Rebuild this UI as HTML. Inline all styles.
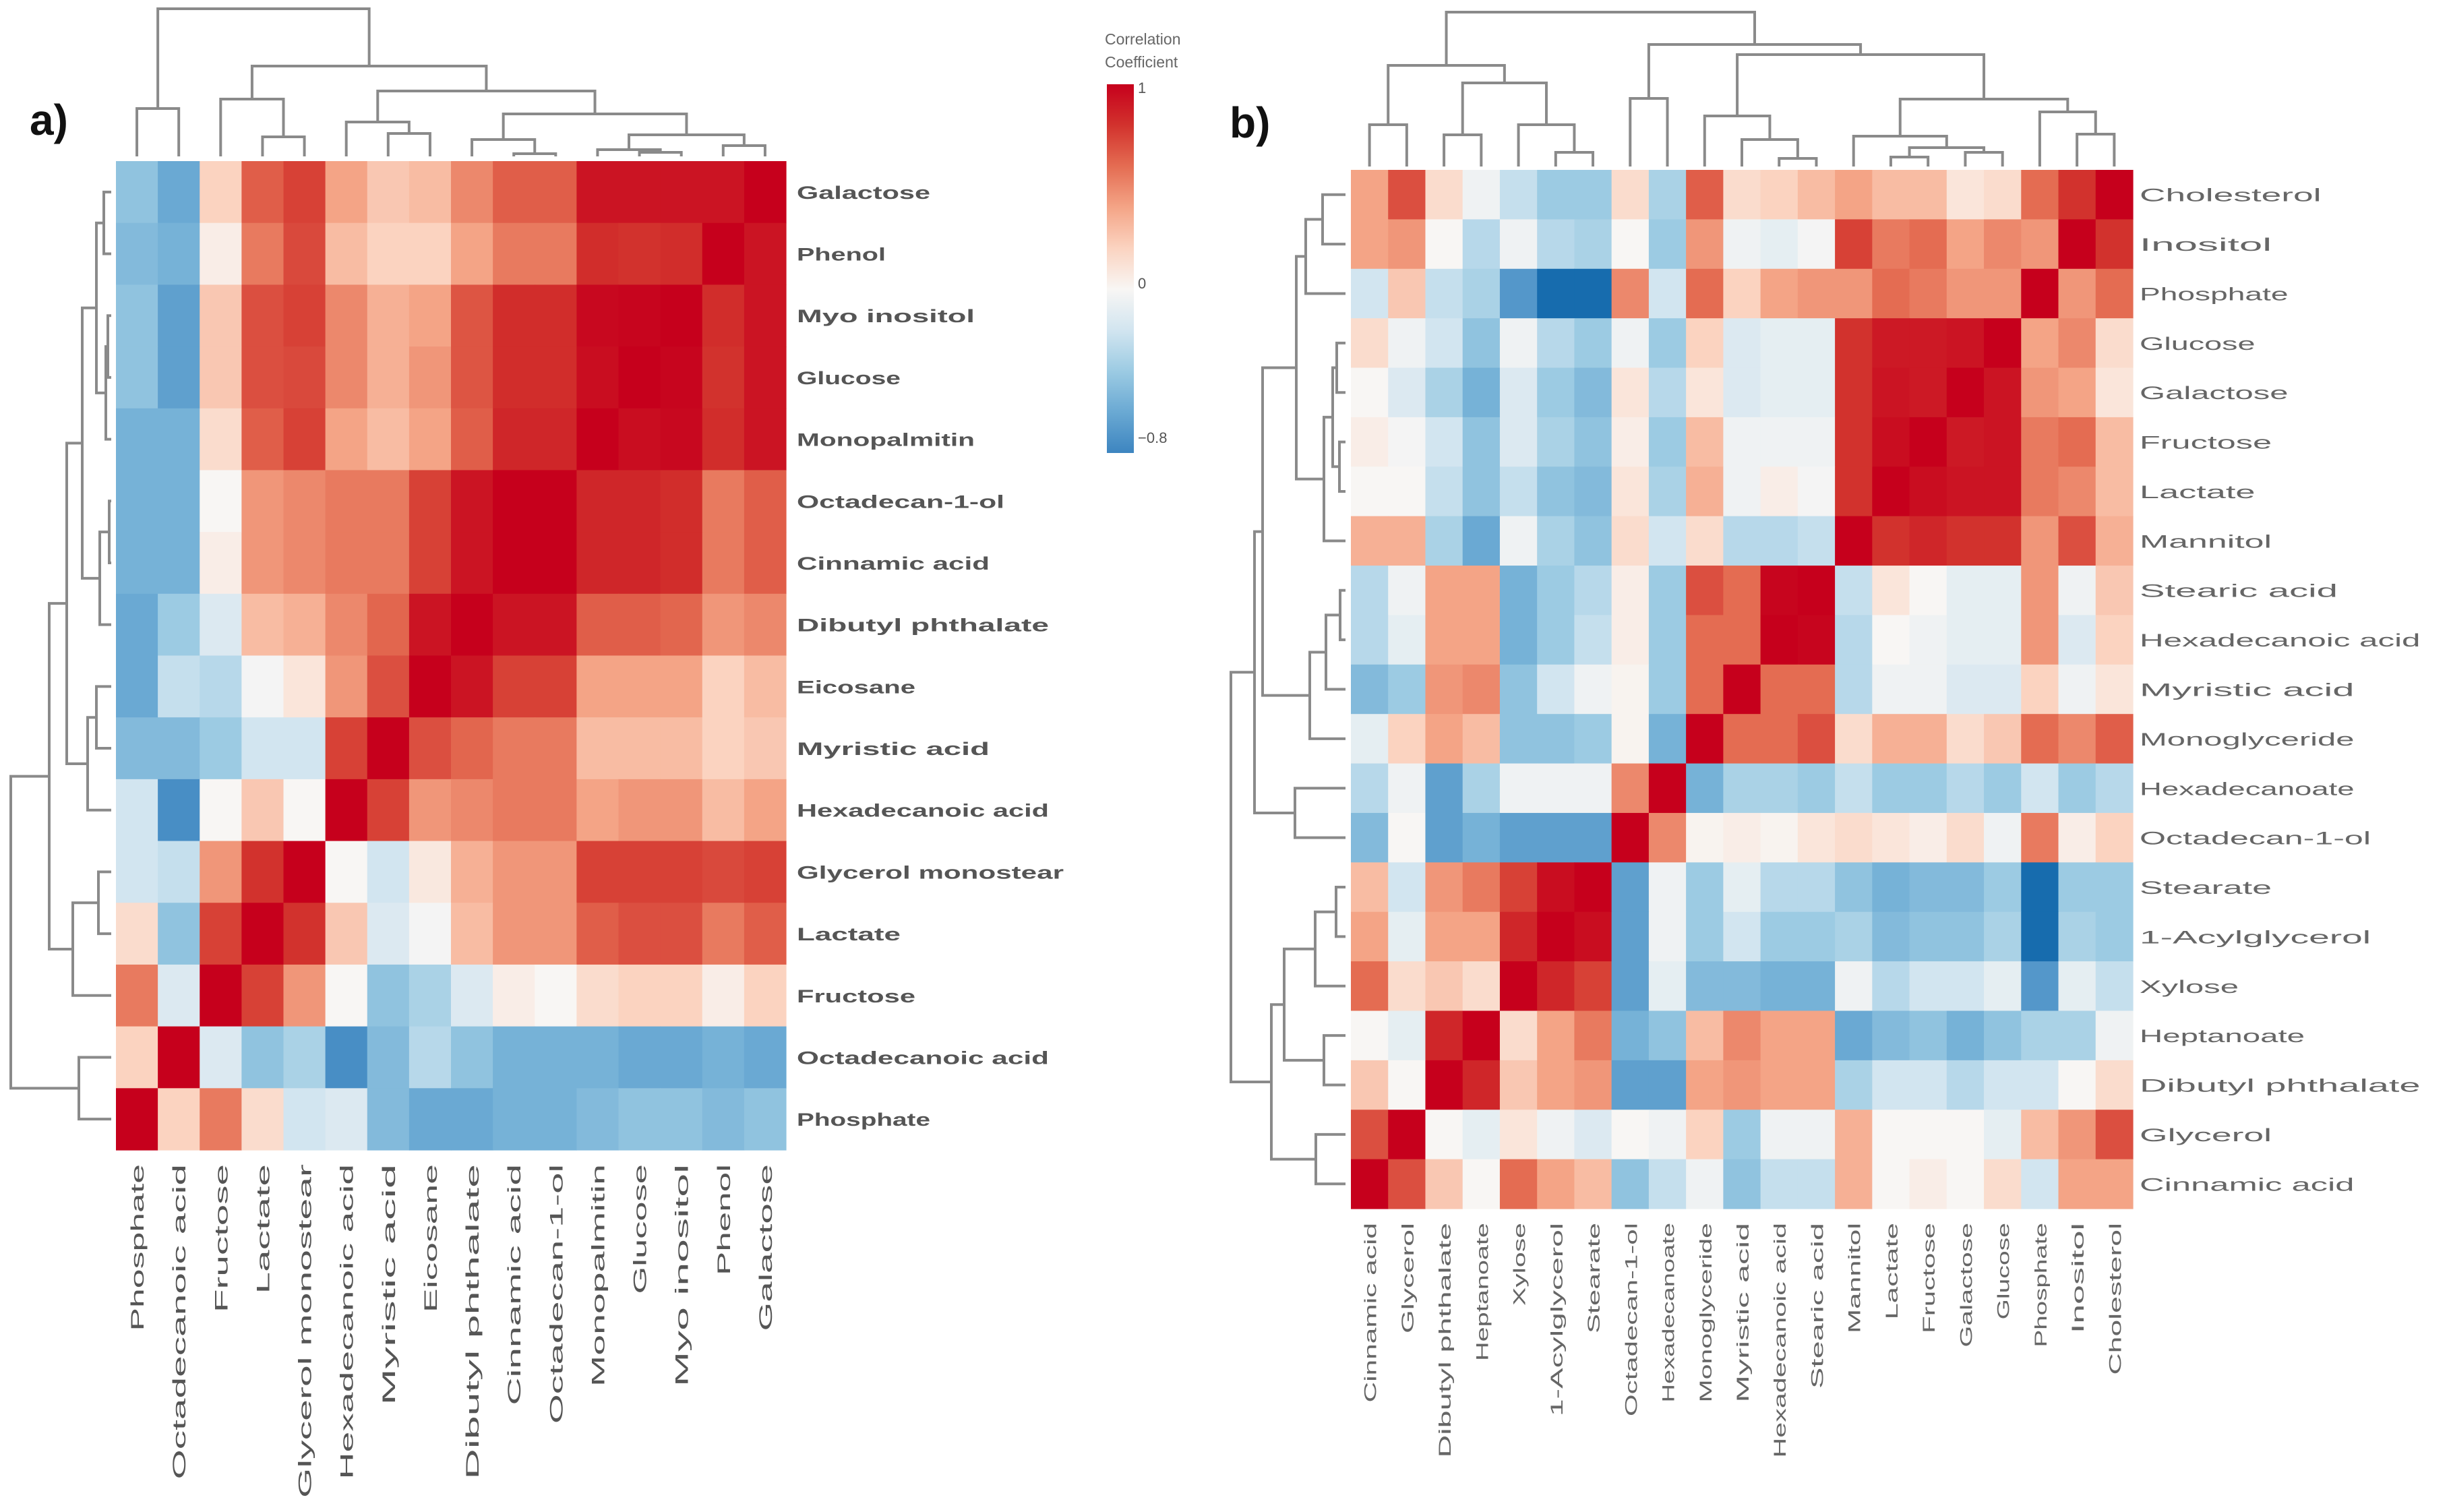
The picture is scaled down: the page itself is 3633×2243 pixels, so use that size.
<!DOCTYPE html>
<html><head><meta charset="utf-8"><title>Correlation heatmaps</title>
<style>
html,body{margin:0;padding:0;background:#fff;}
svg{display:block;}
text{font-family:"Liberation Sans",sans-serif;}
</style></head>
<body>
<svg id="fig" width="3633" height="2243" viewBox="0 0 3633 2243" xmlns="http://www.w3.org/2000/svg">
<defs>
<linearGradient id="cbgrad" x1="0" y1="0" x2="0" y2="1">
<stop offset="0" stop-color="#c6001c"/>
<stop offset="0.111" stop-color="#d2322d"/>
<stop offset="0.222" stop-color="#e46c52"/>
<stop offset="0.333" stop-color="#f4a486"/>
<stop offset="0.444" stop-color="#fbd3c0"/>
<stop offset="0.556" stop-color="#f8f6f4"/>
<stop offset="0.667" stop-color="#d2e5f0"/>
<stop offset="0.778" stop-color="#9ccbe3"/>
<stop offset="0.889" stop-color="#6aa9d3"/>
<stop offset="1" stop-color="#3d85c0"/>
</linearGradient>
</defs>
<text x="44" y="200" font-family="Liberation Serif, serif" font-weight="bold" font-size="64" fill="#111">a)</text>
<text x="1824" y="204" font-family="Liberation Serif, serif" font-weight="bold" font-size="64" fill="#111">b)</text>
<g>
<text x="1639" y="66" font-size="23" fill="#666">Correlation</text>
<text x="1639" y="100" font-size="23" fill="#666">Coefficient</text>
<rect x="1642" y="125" width="40" height="547" fill="url(#cbgrad)"/>
<text x="1688" y="138" font-size="22" fill="#555">1</text>
<text x="1688" y="428" font-size="22" fill="#555">0</text>
<text x="1688" y="657" font-size="22" fill="#555">−0.8</text>
</g>
<g id="panelA"></g>
<g id="panelB"></g>
</svg>
<script>
// ---------- Panel a data ----------
const aCols = ["Phosphate","Octadecanoic acid","Fructose","Lactate","Glycerol monostear","Hexadecanoic acid","Myristic acid","Eicosane","Dibutyl phthalate","Cinnamic acid","Octadecan-1-ol","Monopalmitin","Glucose","Myo inositol","Phenol","Galactose"];
const aRows = ["Galactose","Phenol","Myo inositol","Glucose","Monopalmitin","Octadecan-1-ol","Cinnamic acid","Dibutyl phthalate","Eicosane","Myristic acid","Hexadecanoic acid","Glycerol monostear","Lactate","Fructose","Octadecanoic acid","Phosphate"];
const aValues = [
[-0.45,-0.6,0.2,0.65,0.75,0.4,0.25,0.3,0.5,0.65,0.65,0.92,0.92,0.92,0.92,1],
[-0.5,-0.55,0.05,0.55,0.72,0.3,0.2,0.2,0.4,0.55,0.55,0.82,0.8,0.82,1,0.92],
[-0.45,-0.65,0.25,0.7,0.75,0.5,0.35,0.4,0.68,0.82,0.82,0.97,0.98,1,0.82,0.92],
[-0.45,-0.65,0.25,0.7,0.72,0.5,0.35,0.45,0.68,0.82,0.82,0.95,1,0.98,0.8,0.92],
[-0.55,-0.55,0.15,0.65,0.75,0.4,0.3,0.4,0.65,0.85,0.85,1,0.95,0.97,0.82,0.92],
[-0.55,-0.55,0.0,0.45,0.5,0.55,0.55,0.75,0.92,1,1,0.85,0.85,0.82,0.55,0.65],
[-0.55,-0.55,0.05,0.45,0.5,0.55,0.55,0.75,0.92,1,1,0.85,0.85,0.82,0.55,0.65],
[-0.6,-0.4,-0.15,0.3,0.35,0.5,0.62,0.92,1,0.92,0.92,0.65,0.65,0.62,0.45,0.5],
[-0.6,-0.25,-0.3,-0.02,0.1,0.45,0.7,1,0.92,0.75,0.75,0.4,0.4,0.4,0.2,0.3],
[-0.5,-0.5,-0.4,-0.2,-0.2,0.75,1,0.7,0.62,0.55,0.55,0.3,0.3,0.3,0.2,0.25],
[-0.2,-0.75,0.0,0.25,0.0,1,0.75,0.45,0.5,0.55,0.55,0.4,0.45,0.45,0.3,0.4],
[-0.2,-0.25,0.45,0.8,1,0.0,-0.2,0.08,0.35,0.45,0.45,0.75,0.75,0.75,0.72,0.75],
[0.15,-0.45,0.75,1,0.8,0.25,-0.15,-0.02,0.3,0.45,0.45,0.65,0.7,0.7,0.55,0.65],
[0.55,-0.15,1,0.75,0.45,0.0,-0.45,-0.35,-0.15,0.05,0.0,0.15,0.2,0.2,0.05,0.2],
[0.2,1,-0.15,-0.45,-0.35,-0.75,-0.5,-0.3,-0.45,-0.55,-0.55,-0.55,-0.6,-0.6,-0.55,-0.6],
[1,0.2,0.55,0.15,-0.2,-0.15,-0.5,-0.6,-0.6,-0.55,-0.55,-0.5,-0.45,-0.45,-0.5,-0.45]
];
// merges: [childA, childB, level]  (ids >= n refer to earlier merges)
const aTopMerges = [[9,10,228],[12,13,226],[11,17,222],[14,15,216],[18,19,200],[8,16,207],[21,20,169],[6,7,198],[5,23,181],[24,22,135],[3,4,203],[2,26,147],[27,25,98],[0,1,161],[29,28,13]];
const aLeftMerges = [[0,1,154],[2,3,160],[17,4,157],[16,18,143],[5,6,162],[20,7,148],[19,21,122],[8,9,143],[23,10,130],[22,24,99],[11,12,146],[26,13,108],[25,27,73],[14,15,117],[28,29,16]];

// ---------- Panel b data ----------
const bCols = ["Cinnamic acid","Glycerol","Dibutyl phthalate","Heptanoate","Xylose","1-Acylglycerol","Stearate","Octadecan-1-ol","Hexadecanoate","Monoglyceride","Myristic acid","Hexadecanoic acid","Stearic acid","Mannitol","Lactate","Fructose","Galactose","Glucose","Phosphate","Inositol","Cholesterol"];
const bRows = ["Cholesterol","Inositol","Phosphate","Glucose","Galactose","Fructose","Lactate","Mannitol","Stearic acid","Hexadecanoic acid","Myristic acid","Monoglyceride","Hexadecanoate","Octadecan-1-ol","Stearate","1-Acylglycerol","Xylose","Heptanoate","Dibutyl phthalate","Glycerol","Cinnamic acid"];
const bValues = [
[0.4,0.7,0.15,-0.05,-0.25,-0.4,-0.4,0.15,-0.35,0.65,0.15,0.2,0.3,0.4,0.3,0.3,0.1,0.15,0.6,0.8,1],
[0.4,0.45,0.0,-0.3,-0.05,-0.3,-0.35,0.0,-0.4,0.45,-0.05,-0.1,-0.02,0.75,0.55,0.6,0.4,0.5,0.45,1,0.8],
[-0.2,0.25,-0.25,-0.35,-0.7,-0.95,-0.95,0.5,-0.2,0.6,0.2,0.4,0.45,0.45,0.6,0.55,0.45,0.45,1,0.45,0.6],
[0.15,-0.05,-0.2,-0.45,-0.05,-0.3,-0.4,-0.05,-0.4,0.2,-0.15,-0.1,-0.1,0.8,0.9,0.9,0.92,1,0.4,0.5,0.15],
[0.0,-0.15,-0.35,-0.55,-0.15,-0.4,-0.5,0.1,-0.3,0.1,-0.15,-0.1,-0.1,0.8,0.92,0.9,1,0.92,0.45,0.4,0.1],
[0.05,-0.02,-0.2,-0.45,-0.15,-0.35,-0.45,0.05,-0.4,0.3,-0.05,-0.05,-0.05,0.8,0.95,1,0.9,0.92,0.55,0.6,0.3],
[0.0,0.0,-0.25,-0.45,-0.25,-0.45,-0.5,0.1,-0.35,0.35,-0.05,0.05,-0.02,0.8,1,0.95,0.92,0.92,0.55,0.5,0.3],
[0.35,0.35,-0.35,-0.6,-0.05,-0.35,-0.45,0.15,-0.2,0.15,-0.3,-0.3,-0.25,1,0.8,0.85,0.8,0.8,0.45,0.7,0.35],
[-0.3,-0.05,0.4,0.4,-0.55,-0.4,-0.3,0.05,-0.4,0.7,0.6,0.98,1,-0.25,0.1,0.0,-0.1,-0.1,0.45,-0.05,0.25],
[-0.3,-0.1,0.4,0.4,-0.55,-0.4,-0.25,0.05,-0.4,0.6,0.6,1,0.98,-0.3,0.0,-0.05,-0.1,-0.1,0.45,-0.15,0.2],
[-0.5,-0.4,0.45,0.5,-0.45,-0.2,-0.05,0.02,-0.4,0.6,1,0.6,0.6,-0.3,-0.05,-0.05,-0.15,-0.15,0.2,-0.05,0.1],
[-0.1,0.2,0.4,0.3,-0.45,-0.45,-0.4,0.02,-0.55,1,0.6,0.6,0.7,0.15,0.35,0.35,0.15,0.25,0.6,0.5,0.65],
[-0.3,-0.05,-0.65,-0.35,-0.05,-0.05,-0.05,0.5,1,-0.55,-0.35,-0.35,-0.4,-0.25,-0.4,-0.4,-0.3,-0.4,-0.2,-0.4,-0.3],
[-0.5,0.0,-0.65,-0.55,-0.65,-0.65,-0.65,1,0.5,0.02,0.05,0.02,0.1,0.15,0.1,0.05,0.15,-0.05,0.55,0.05,0.2],
[0.3,-0.2,0.45,0.55,0.75,0.95,1,-0.65,-0.05,-0.4,-0.1,-0.3,-0.3,-0.45,-0.55,-0.5,-0.5,-0.4,-0.95,-0.4,-0.4],
[0.4,-0.1,0.4,0.4,0.85,1,0.95,-0.65,-0.05,-0.4,-0.2,-0.4,-0.4,-0.35,-0.5,-0.45,-0.45,-0.35,-0.95,-0.35,-0.4],
[0.6,0.15,0.25,0.15,1,0.85,0.75,-0.65,-0.1,-0.5,-0.5,-0.55,-0.55,-0.05,-0.3,-0.2,-0.2,-0.1,-0.7,-0.1,-0.25],
[0.0,-0.1,0.85,1,0.15,0.4,0.55,-0.55,-0.45,0.3,0.5,0.4,0.4,-0.6,-0.5,-0.45,-0.55,-0.45,-0.35,-0.35,-0.05],
[0.25,0.0,1,0.85,0.25,0.4,0.45,-0.65,-0.65,0.4,0.45,0.4,0.4,-0.35,-0.2,-0.2,-0.3,-0.2,-0.2,0.0,0.15],
[0.7,1,0.0,-0.1,0.1,-0.05,-0.15,0.0,-0.05,0.2,-0.4,-0.05,-0.05,0.35,0.0,0.0,0.0,-0.1,0.3,0.45,0.7],
[1,0.7,0.25,0.0,0.6,0.4,0.3,-0.45,-0.25,-0.05,-0.45,-0.25,-0.25,0.35,0.0,0.05,0.0,0.15,-0.2,0.4,0.4]
];
const bTopMerges = [[0,1,185],[2,3,200],[5,6,226],[4,23,185],[22,24,123],[21,25,97],[7,8,146],[11,12,235],[10,28,207],[9,29,172],[14,15,233],[16,17,226],[31,32,219],[13,33,202],[19,20,199],[18,35,166],[34,36,147],[30,37,81],[27,38,66],[26,39,18]];
const bLeftMerges = [[0,1,1962],[21,2,1937],[3,4,1983],[5,6,1987],[23,24,1977],[25,7,1964],[22,26,1923],[8,9,1988],[28,10,1967],[29,11,1943],[27,30,1873],[12,13,1921],[31,32,1861],[14,15,1982],[34,16,1951],[17,18,1964],[35,36,1905],[19,20,1952],[37,38,1886],[33,39,1826]];

// ---------- helpers ----------
const NS = "http://www.w3.org/2000/svg";
const cStops = [-1,-0.8,-0.6,-0.4,-0.2,0,0.2,0.4,0.6,0.8,1];
const cCols = ['#0a64a8','#3d85c0','#6aa9d3','#9ccbe3','#d2e5f0','#f8f6f4','#fbd3c0','#f4a486','#e46c52','#d2322d','#c6001c'];
function hex(h){return [parseInt(h.substr(1,2),16),parseInt(h.substr(3,2),16),parseInt(h.substr(5,2),16)];}
function color(v){
  v=Math.max(-1,Math.min(1,v));
  for(let i=0;i<cStops.length-1;i++){
    if(v<=cStops[i+1]){
      const t=(v-cStops[i])/(cStops[i+1]-cStops[i]);
      const a=hex(cCols[i]),b=hex(cCols[i+1]);
      return 'rgb('+a.map((x,k)=>Math.round(x+(b[k]-x)*t)).join(',')+')';
    }
  }
  return cCols[cCols.length-1];
}
function mk(tag,attrs,parent){
  const e=document.createElementNS(NS,tag);
  for(const k in attrs) e.setAttribute(k,attrs[k]);
  parent.appendChild(e);
  return e;
}

function drawPanel(g, cfg){
  const {rows, cols, values, x0, x1, y0, y1} = cfg;
  const cw=(x1-x0)/cols.length, rh=(y1-y0)/rows.length;
  const xScale=i=>x0+cw*i, yScale=i=>y0+rh*i;
  // cells
  const cells=mk('g',{},g);
  
  
  values.forEach((row,r)=>row.forEach((v,c)=>{
    const rc=mk('rect',{x:xScale(c),y:yScale(r),width:cw+0.6,height:rh+0.6,fill:color(v)},cells);
    
    
  }));
  // row labels
  rows.forEach((name,r)=>{
    const t=mk('text',{x:cfg.rowLabelX,y:yScale(r)+rh/2+10,'font-size':cfg.rowFont,'font-weight':cfg.rowWeight,fill:cfg.labelColor,textLength:name.length*cfg.rowChar,lengthAdjust:'spacingAndGlyphs'},g);
    t.textContent=name;
    
    
  });
  // column labels (rotated)
  cols.forEach((name,c)=>{
    const cx=xScale(c)+cw/2+10, ty=cfg.colLabelY;
    const t=mk('text',{x:cx,y:ty,transform:'rotate(-90 '+cx+' '+ty+')','text-anchor':'end','font-size':cfg.colFont,fill:cfg.labelColor,textLength:name.length*cfg.colChar,lengthAdjust:'spacingAndGlyphs'},g);
    t.textContent=name;
    
    
  });
  // dendrograms
  function dendro(merges, n, leafPos, leafLevel, vertical, name){
    const dg=mk('g',{stroke:'#8a8a8a','stroke-width':4,fill:'none'},g);
    
    
    const pos=[],lev=[];
    for(let i=0;i<n;i++){pos.push(leafPos(i));lev.push(leafLevel);}
    merges.forEach(m=>{
      const [a,b,h]=m;
      const pa=pos[a],pb=pos[b],la=lev[a],lb=lev[b];
      let d;
      if(vertical) d='M'+pa+' '+la+'V'+h+'H'+pb+'V'+lb;
      else d='M'+la+' '+pa+'H'+h+'V'+pb+'H'+lb;
      const p=mk('path',{d:d},dg);
      
      
      pos.push((pa+pb)/2);lev.push(h);
    });
  }
  dendro(cfg.topMerges, cols.length, i=>xScale(i)+cw/2, cfg.topLeaf, true, 'column-dendrogram');
  dendro(cfg.leftMerges, rows.length, i=>yScale(i)+rh/2, cfg.leftLeaf, false, 'row-dendrogram');
}

drawPanel(document.getElementById('panelA'),{rows:aRows,cols:aCols,values:aValues,x0:172,x1:1166,y0:239,y1:1706,
  rowLabelX:1182,rowFont:27,rowWeight:'bold',rowChar:22,colLabelY:1727,colFont:27,colChar:27.5,labelColor:'#555',
  topMerges:aTopMerges,leftMerges:aLeftMerges,topLeaf:232,leftLeaf:165});
drawPanel(document.getElementById('panelB'),{rows:bRows,cols:bCols,values:bValues,x0:2004,x1:3164,y0:252,y1:1793,
  rowLabelX:3174,rowFont:27,rowWeight:'normal',rowChar:24.5,colLabelY:1814,colFont:25,colChar:20.5,labelColor:'#666',
  topMerges:bTopMerges,leftMerges:bLeftMerges,topLeaf:247,leftLeaf:1996});
</script>
</body></html>
